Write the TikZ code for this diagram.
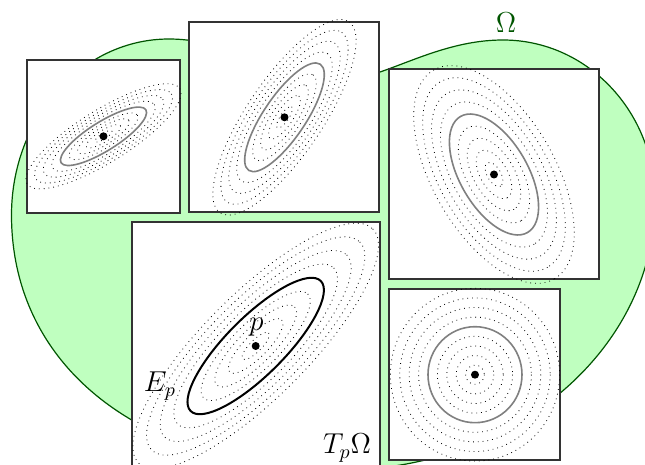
\documentclass[tikz,border=0pt]{standalone}
\usepackage{amsfonts,amssymb,amsmath}
\usepackage{tikz}
\definecolor{omgreen}{RGB}{0,85,0}

\begin{document}
\begin{tikzpicture}[x=0.5pt,y=-0.5pt,
  blob/.style={draw=omgreen,fill=green!25,line width=0.6pt},
  panel/.style={draw=black!80,fill=white,line width=1pt,inner sep=0pt,minimum size=#1},
  ctr/.style={circle,fill=black,inner sep=0pt,minimum size=4pt},
  level/.style={black,dotted,line width=0.4pt},
  unit/.style={black!50,line width=0.8pt},
  metric/.style={black,line width=1pt},
  lbl/.style={font=\Large}]
\clip(0,0)rectangle(645,465);
\draw[blob](169,39)..controls(82,39)and(11.5,117.8)..(11.5,215)
  ..controls(11.5,368)and(143,470)..(340,470)
  ..controls(514,470)and(655,349)..(655,200)
  ..controls(655,111.6)and(587,40)..(503,40)
  ..controls(455,40)and(415,60)..(380,72)
  ..controls(320,92)and(240,39)..(169,39)--cycle;
\node[panel=76.5pt](A)at(103.5,136.3){};
\node[panel=95pt](B)at(284.5,117.3){};
\node[panel=105pt](C)at(494,174.5){};
\node[panel=124pt](D)at(255.7,346){};
\node[panel=85.5pt](E)at(475,374.7){};
\foreach \s in {0.2,0.4,0.6,0.8,1.2,1.4,1.6,1.8}{
  \draw[level,rotate around={32:(A)}](A)ellipse[x radius=50*\s,y radius=14.5*\s];
  \draw[level,rotate around={56:(B)}](B)ellipse[x radius=64*\s,y radius=21*\s];
  \draw[level,rotate around={-60:(C)}](C)ellipse[x radius=67*\s,y radius=34*\s];
  \draw[level,rotate around={45:(D)}](D)ellipse[x radius=92*\s,y radius=29*\s];
  \draw[level](E)ellipse[x radius=47*\s,y radius=48*\s];
}
\draw[unit,rotate around={32:(A)}](A)ellipse[x radius=50,y radius=14.5];
\draw[unit,rotate around={56:(B)}](B)ellipse[x radius=64,y radius=21];
\draw[unit,rotate around={-60:(C)}](C)ellipse[x radius=67,y radius=34];
\draw[metric,rotate around={45:(D)}](D)ellipse[x radius=92,y radius=29];
\draw[unit](E)ellipse[x radius=47,y radius=48];
\node[ctr](pA)at(A){};
\node[ctr](pB)at(B){};
\node[ctr](pC)at(C){};
\node[ctr](pD)at(D){};
\node[ctr](pE)at(E){};
\node[lbl,anchor=base](lp)at(256.5,331){$p$};
\node[lbl,anchor=base east](lE)at(183,392){$E_p$};
\node[lbl,anchor=base](lT)at(347,454){$T_p\Omega$};
\node[lbl,text=omgreen,anchor=base](lO)at(506,33){$\Omega$};
\end{tikzpicture}
\end{document}
